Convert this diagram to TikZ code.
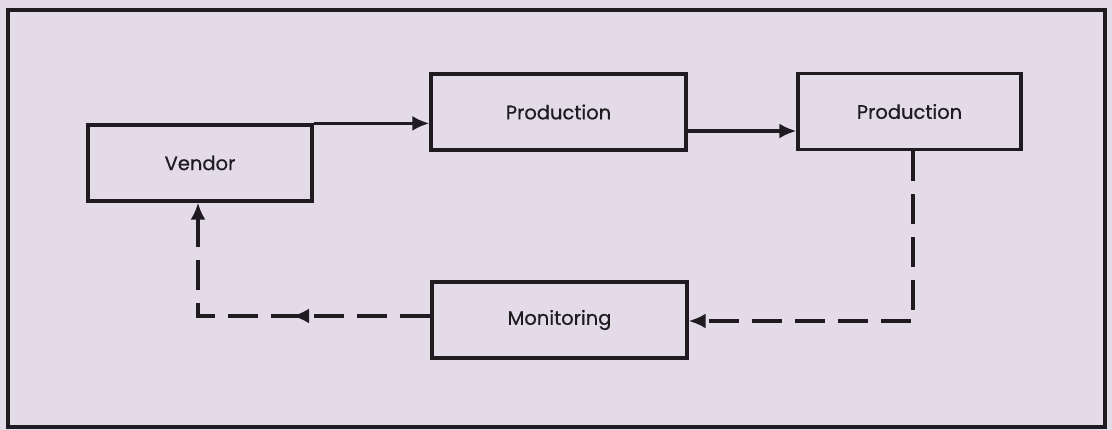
\documentclass[tikz,border=0pt]{standalone}
\usepackage{fontspec}
\setmainfont{Poppins}[FakeBold=0.6]
\usetikzlibrary{arrows.meta,calc,decorations.markings}
\definecolor{paper}{RGB}{227,220,232}
\definecolor{ink}{RGB}{30,28,32}
\tikzset{
  stage/.style={draw=ink, line width=3.2pt, minimum width=#1, minimum height=76pt,
    inner sep=0pt, font=\fontsize{19.5}{22}\selectfont, text=ink},
  flow/.style={draw=ink, line width=3.2pt, -{Latex[length=17pt,width=15pt]}},
  feedback/.style={flow, dash pattern=on 30pt off 13pt},
}
\begin{document}
\begin{tikzpicture}[x=1pt,y=-1pt]
  \fill[paper] (0,0) rectangle (1112,430);
  \useasboundingbox (0,0) rectangle (1112,430);
  % outer frame
  \draw[ink, line width=3.2pt] (8,10) rectangle (1105,427);

  % process stages
  \node[stage=224pt] (V)  at (200,163)   {Vendor};
  \node[stage=255pt] (P1) at (558.5,112) {Production};
  \node[stage=223pt] (P2) at (909.5,111.5) {Production};
  \node[stage=255pt] (M)  at (559.5,320) {Monitoring};

  % material flow
  \draw[flow] (V.north east) -- (V.north east -| P1.west);
  \draw[flow] ($(P1.east)+(0,19)$) -- ($(P2.west)+(0,19.5)$);

  % monitoring feedback loop
  \draw[feedback] ($(P2.south)+(3.5,0)$) |- ($(M.east)+(0,1)$);
  \draw[feedback,
    postaction={decorate, decoration={markings,
      mark=at position 0.40 with {\arrow[ink]{Latex[length=17pt,width=15pt]}}}}]
    ($(M.west)+(0,-4)$) -| ($(V.south)+(-2,0)$);
\end{tikzpicture}
\end{document}
